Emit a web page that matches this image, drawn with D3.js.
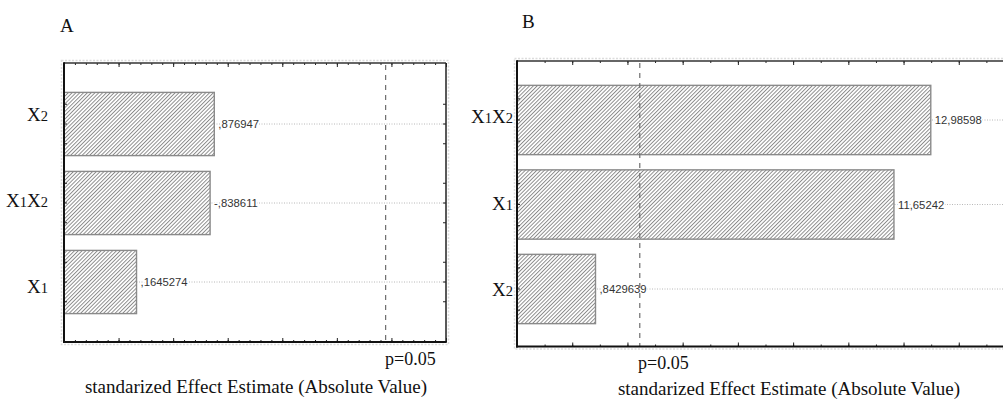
<!DOCTYPE html>
<html>
<head>
<meta charset="utf-8">
<script src="https://cdn.jsdelivr.net/npm/d3@7"></script>
<style>
  html, body { margin: 0; padding: 0; background: #fff; }
  svg { display: block; }
</style>
</head>
<body>
<svg id="chart" width="1003" height="401"></svg>
<script>
// ---- data ----
const catsA = ["X2", "X1X2", "X1"];
const valsA = [0.876947, -0.838611, 0.1645274];
const catsB = ["X1X2", "X1", "X2"];
const valsB = [12.98598, 11.65242, 0.8429639];
const pCrit = 2.446912;           // t critical value, p = 0.05
const pLabel = "p=0.05";
const axisTitle = "standarized Effect Estimate (Absolute Value)";
const panelTitles = ["A", "B"];
const xDomainA = [-0.5, 3.0];
const xDomainB = [-2, 16];

const svg = d3.select("#chart");
const defs = svg.append("defs");
const pat = defs.append("pattern")
  .attr("id", "hatch").attr("patternUnits", "userSpaceOnUse")
  .attr("width", 2.7).attr("height", 2.7)
  .attr("patternTransform", "rotate(45)");
pat.append("rect").attr("width", 2.7).attr("height", 2.7).attr("fill", "#fff");
pat.append("line").attr("x1", 0.5).attr("y1", 0).attr("x2", 0.5).attr("y2", 2.7)
  .attr("stroke", "#7a7a7a").attr("stroke-width", 0.85);

function fmt(v) {
  let s = String(v);
  s = s.replace(/^(-?)0\./, "$1.");
  return s.replace(".", ",");
}

const SERIF = "Liberation Serif, Times New Roman, serif";

function drawPanel(cfg) {
  const { cats, vals, xDomain, frame, yRange, major, minor, catLabelX, labelSpread, labelDy,
          title, titleX, titleY, pX, pY, axX, axY, barPad } = cfg;
  const g = svg.append("g");
  const x = d3.scaleLinear().domain(xDomain).range([frame.x0, frame.x1]);
  const y = d3.scaleBand().domain(cats).range(yRange).paddingInner(barPad).paddingOuter(barPad / 2);
  const yc = d => y(d) + y.bandwidth() / 2;
  const mid = (yRange[0] + yRange[1]) / 2;

  // light outer border
  g.append("rect")
    .attr("x", frame.x0 - 2.5).attr("y", frame.y0 - 2.5)
    .attr("width", frame.x1 - frame.x0 + 5).attr("height", frame.y1 - frame.y0 + 5)
    .attr("fill", "none").attr("stroke", "#dcdcdc").attr("stroke-width", 1.5)
    .attr("stroke-dasharray", "2,1.5");

  // gridlines (dotted)
  g.selectAll(".grid").data(cats).join("line")
    .attr("x1", frame.x0).attr("x2", frame.x1)
    .attr("y1", yc).attr("y2", yc)
    .attr("stroke", "#b8b8b8").attr("stroke-width", 1).attr("stroke-dasharray", "1,1.5");

  // bars
  g.selectAll(".bar").data(cats).join("rect")
    .attr("x", x(xDomain[0]))
    .attr("y", d => y(d))
    .attr("width", (d, i) => x(Math.abs(vals[i])) - x(xDomain[0]))
    .attr("height", y.bandwidth())
    .attr("fill", "url(#hatch)").attr("stroke", "#8a8a8a").attr("stroke-width", 1.4);

  // value labels
  g.selectAll(".val").data(cats).join("text")
    .attr("x", (d, i) => x(Math.abs(vals[i])) + 4)
    .attr("y", d => yc(d) + 4)
    .attr("font-family", "Liberation Sans, Arial, sans-serif")
    .attr("font-size", 11.3).attr("fill", "#333")
    .attr("stroke", "#fff").attr("stroke-width", 3).attr("paint-order", "stroke")
    .text((d, i) => fmt(vals[i]));

  // p line
  g.append("line")
    .attr("x1", x(pCrit)).attr("x2", x(pCrit))
    .attr("y1", frame.y0 + 2).attr("y2", frame.y1)
    .attr("stroke", "#6e6e6e").attr("stroke-width", 1.2).attr("stroke-dasharray", "5,5");

  // x ticks (inward) via axes
  const minorTicks = d3.range(xDomain[0], xDomain[1] + 1e-9, minor).map(v => +v.toFixed(4));
  const majorTicks = d3.range(xDomain[0], xDomain[1] + 1e-9, major).map(v => +v.toFixed(4));
  const mk = (axisFn, ticks, size, yPos) => {
    const a = g.append("g").attr("transform", `translate(0,${yPos})`)
      .call(axisFn(x).tickValues(ticks).tickSize(size).tickFormat(""));
    a.select(".domain").remove();
    a.selectAll("line").attr("stroke", "#222").attr("stroke-width", 1);
  };
  mk(d3.axisBottom, minorTicks, -2, frame.y1);
  mk(d3.axisBottom, majorTicks, -4, frame.y1);
  mk(d3.axisTop, minorTicks, -2, frame.y0);
  mk(d3.axisTop, majorTicks, -4, frame.y0);

  // y ticks (inward): at category centre and quarter steps
  const yt = [];
  cats.forEach(c => {
    [-0.25, 0, 0.25].forEach(k => yt.push(yc(c) + k * y.step()));
  });
  g.selectAll(".yt").data(yt).join("line")
    .attr("x1", frame.x0).attr("x2", frame.x0 + 3)
    .attr("y1", d => d).attr("y2", d => d)
    .attr("stroke", "#222").attr("stroke-width", 1);
  g.selectAll(".yt2").data(yt).join("line")
    .attr("x1", frame.x1).attr("x2", frame.x1 - 3)
    .attr("y1", d => d).attr("y2", d => d)
    .attr("stroke", "#222").attr("stroke-width", 1);

  // frame
  g.append("line").attr("x1", frame.x0).attr("x2", frame.x1).attr("y1", frame.y0).attr("y2", frame.y0)
    .attr("stroke", "#333").attr("stroke-width", 1.5);
  g.append("line").attr("x1", frame.x1).attr("x2", frame.x1).attr("y1", frame.y0).attr("y2", frame.y1)
    .attr("stroke", "#222").attr("stroke-width", 1.5);
  g.append("line").attr("x1", frame.x0).attr("x2", frame.x0).attr("y1", frame.y0 - 0.75).attr("y2", frame.y1 + 1)
    .attr("stroke", "#111").attr("stroke-width", 2);
  g.append("line").attr("x1", frame.x0 - 1).attr("x2", frame.x1 + 0.75).attr("y1", frame.y1).attr("y2", frame.y1)
    .attr("stroke", "#111").attr("stroke-width", 2);

  // category labels with small digits
  const cl = g.selectAll(".cat").data(cats).join("text")
    .attr("x", catLabelX)
    .attr("y", d => mid + (yc(d) - mid) * labelSpread + labelDy)
    .attr("text-anchor", "end")
    .attr("font-family", SERIF)
    .attr("font-size", 19).attr("fill", "#111");
  cl.each(function (d) {
    const t = d3.select(this);
    d.match(/[A-Za-z]+|\d+/g).forEach(part => {
      t.append("tspan").attr("font-size", /\d/.test(part) ? 14.5 : 19).text(part);
    });
  });

  // panel title
  g.append("text").attr("x", titleX).attr("y", titleY)
    .attr("font-family", SERIF)
    .attr("font-size", 19).attr("fill", "#111").text(title);

  // p label
  g.append("text").attr("x", pX).attr("y", pY)
    .attr("font-family", SERIF)
    .attr("font-size", 18).attr("fill", "#111").text(pLabel);

  // axis title
  g.append("text").attr("x", axX).attr("y", axY).attr("text-anchor", "middle")
    .attr("font-family", SERIF)
    .attr("font-size", 19).attr("fill", "#111").text(axisTitle);
}

drawPanel({
  cats: catsA, vals: valsA, xDomain: xDomainA,
  frame: { x0: 64, x1: 446, y0: 63, y1: 342 },
  yRange: [84.5, 321.5], barPad: 0.2,
  major: 0.5, minor: 0.1, catLabelX: 48, labelSpread: 1.09, labelDy: 4,
  title: panelTitles[0], titleX: 60, titleY: 32,
  pX: 385, pY: 365, axX: 256, axY: 393
});

drawPanel({
  cats: catsB, vals: valsB, xDomain: xDomainB,
  frame: { x0: 517, x1: 1014, y0: 61, y1: 346.5 },
  yRange: [77.75, 331.25], barPad: 0.18,
  major: 2, minor: 1, catLabelX: 513, labelSpread: 1.02, labelDy: 5,
  title: panelTitles[1], titleX: 522, titleY: 28,
  pX: 638, pY: 369, axX: 789, axY: 395
});
</script>
</body>
</html>
